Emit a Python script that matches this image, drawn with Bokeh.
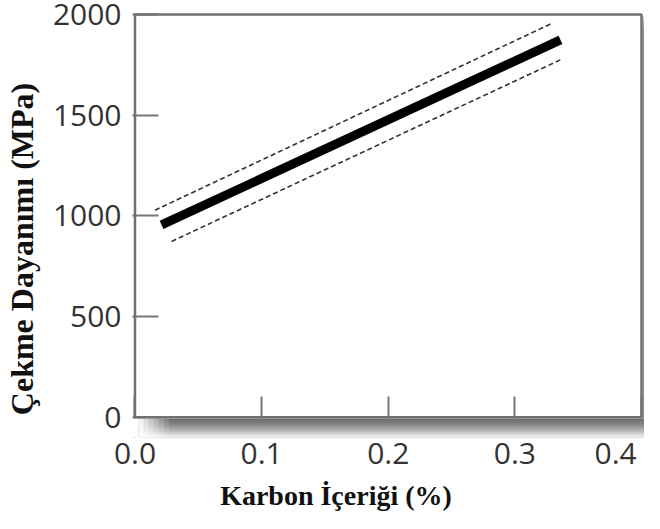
from bokeh.plotting import figure
from bokeh.models import Range1d, FixedTicker
from bokeh.embed import file_html
from bokeh.resources import INLINE

# ---- data ----
carbon_mean = [0.021, 0.336]
strength_mean = [955, 1874]
carbon_upper = [0.0158, 0.3296]
strength_upper = [1028, 1957]
carbon_lower = [0.0289, 0.3374]
strength_lower = [873, 1779]

x_ticks = [0.0, 0.1, 0.2, 0.3, 0.4]
x_tick_labels = ["0.0", "0.1", "0.2", "0.3", "0.4"]
y_ticks = [0, 500, 1000, 1500, 2000]
y_tick_labels = ["0", "500", "1000", "1500", "2000"]
x_label = "Karbon İçeriği (%)"
y_label = "Çekme Dayanımı (MPa)"

# ---- layout (pixels) ----
W, H = 644, 513
BL, BT = 129, 12                 # frame origin
PAD_L, PAD_T = 2.5, 2.0          # room for the plot border line
PLOT_W, PLOT_H = 509.5, 406.5    # size of the 0..0.4 x 0..2000 box
PAD_R = W - BL - PAD_L - PLOT_W  # what is left on the right
PAD_B = 20.5                     # room for the drop shadow
BB = H - BT - PAD_T - PLOT_H - PAD_B

X0, X1 = x_ticks[0], x_ticks[-1]
Y0, Y1 = y_ticks[0], y_ticks[-1]
ux = (X1 - X0) / PLOT_W
uy = (Y1 - Y0) / PLOT_H

p = figure(width=W, height=H,
           x_range=Range1d(X0 - PAD_L * ux, X1 + PAD_R * ux),
           y_range=Range1d(Y0 - PAD_B * uy, Y1 + PAD_T * uy),
           output_backend="svg", toolbar_location=None,
           min_border_left=BL, min_border_right=0, min_border_top=BT,
           min_border_bottom=int(round(BB)))
p.title.visible = False
p.background_fill_color = "white"
p.border_fill_color = "white"
p.grid.visible = False
p.outline_line_color = None

for ax in (p.xaxis[0], p.yaxis[0]):
    ax.axis_line_color = None
    ax.major_tick_line_color = "#777777"
    ax.major_tick_line_width = 2
    ax.minor_tick_line_color = None
    ax.major_tick_out = 0
    ax.major_label_text_font = "Open Sans"
    ax.major_label_text_font_size = "30px"
    ax.major_label_text_color = "#333333"
    ax.axis_label_text_font = "Liberation Serif"
    ax.axis_label_text_font_style = "bold"
    ax.axis_label_text_color = "#111111"

NB = "\u00a0"
x_over = dict(zip(x_ticks, x_tick_labels))
x_over[x_ticks[-1]] = x_tick_labels[-1] + NB   # keep the last label inside the canvas
p.xaxis.ticker = FixedTicker(ticks=x_ticks)
p.xaxis.major_label_overrides = x_over
p.xaxis.major_tick_in = 41
p.xaxis.major_label_standoff = -6
p.xaxis.axis_label = x_label + NB * 15
p.xaxis.axis_label_text_font_size = "28px"
p.xaxis.axis_label_standoff = 4

p.yaxis.ticker = FixedTicker(ticks=y_ticks)
p.yaxis.major_label_overrides = dict(zip(y_ticks, y_tick_labels))
p.yaxis.major_tick_in = 26
p.yaxis.major_label_standoff = 11
p.yaxis.axis_label = y_label + NB * 6
p.yaxis.axis_label_text_font_size = "32px"
p.yaxis.axis_label_standoff = 10

# lines
p.line(carbon_upper, strength_upper, line_color="#333333", line_width=1.6, line_dash="5 3")
p.line(carbon_lower, strength_lower, line_color="#333333", line_width=1.6, line_dash="5 3")
p.line(carbon_mean, strength_mean, line_color="black", line_width=9, line_cap="butt")

# white under the box (hides tick stubs below the border), then drop shadow
ylo = Y0 - PAD_B * uy
xhi = X1 + PAD_R * ux
p.quad(left=[X0 - PAD_L * ux], right=[xhi], bottom=[ylo], top=[Y0 - 1.2 * uy],
       fill_color="white", line_color=None, level="overlay")
greys = [0x6e, 0x76, 0x80, 0x8c, 0x9a, 0xaa, 0xbc, 0xcf, 0xe1, 0xf1]
for k, g in enumerate(greys):
    # nested bands: each one runs from its own top down to the bottom of the shadow
    p.quad(left=[X0 + 4 * ux], right=[xhi], top=[Y0 - (1.2 + 2.0 * k) * uy], bottom=[ylo],
           fill_color="#%02x%02x%02x" % (g, g, g), line_color=None, level="overlay")
# soft fade at the left end of the shadow
for k, a in enumerate([0.9, 0.75, 0.6, 0.45, 0.3, 0.15]):
    p.quad(left=[X0 + (4 + 5 * k) * ux], right=[X0 + (4 + 5 * (k + 1)) * ux],
           top=[Y0 - 1.2 * uy], bottom=[ylo], fill_color="white", fill_alpha=a,
           line_color=None, level="overlay")
# right-hand shadow
for k, c in enumerate(["#c8c8c8", "#a8a8a8", "#909090"]):
    p.quad(left=[X1 + 1.2 * ux], right=[xhi], top=[Y1 - (2 + 4 * k) * uy],
           bottom=[Y1 - (6 + 4 * k) * uy], fill_color=c, line_color=None, level="overlay")
p.quad(left=[X1 + 1.2 * ux], right=[xhi], top=[Y1 - 14 * uy], bottom=[Y0 - 1.2 * uy],
       fill_color="#888888", line_color=None, level="overlay")

# plot box border
p.quad(left=[X0], right=[X1], bottom=[Y0], top=[Y1], fill_color=None,
       line_color="#707070", line_width=2.5, level="overlay")

open("out.html", "w").write(file_html(p, INLINE))
